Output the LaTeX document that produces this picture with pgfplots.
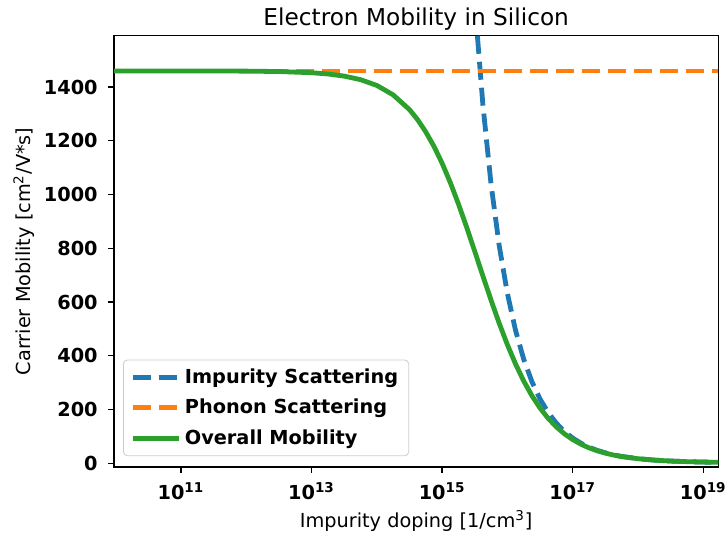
\documentclass[border=0pt]{standalone}
\usepackage{fontspec}
\setmainfont{DejaVu Sans}
\usepackage{pgfplots}
\usepackage{pgfplotstable}
\pgfplotsset{compat=1.18}

\definecolor{mplblue}{HTML}{1F77B4}
\definecolor{mplorange}{HTML}{FF7F0E}
\definecolor{mplgreen}{HTML}{2CA02C}

% Impurity-limited mobility (cm^2/Vs) versus doping (1/cm^3)
\pgfplotstableread{
N        mu
1.778e15 2847
2.371e15 2208.5
3.162e15 1714.9
4.217e15 1333.4
5.623e15 1037.9
7.499e15 809.1
1.000e16 631.9
1.334e16 494.2
1.778e16 387.1
2.371e16 303.9
3.162e16 238.9
4.217e16 188.3
5.623e16 148.8
7.499e16 117.9
1.000e17 93.6
1.334e17 74.6
1.778e17 59.6
2.371e17 47.8
3.162e17 38.5
4.217e17 31.1
5.623e17 25.2
1.000e18 16.9
1.778e18 11.5
3.162e18 8.0
5.623e18 5.7
1.000e19 4.2
1.700e19 3.2
}\impurity

% Lattice (phonon) limited mobility
\pgfplotstableread{
N        mu
9.46e9   1460
1.70e19  1460
}\phonon

% Combined mobility (Matthiessen's rule)
\pgfplotstableread{
N        mu
9.46e9   1460.0
3.162e10 1460.0
1.000e11 1459.9
3.162e11 1459.7
1.000e12 1459.2
3.162e12 1457.7
1.000e13 1453.3
1.778e13 1448.6
3.162e13 1440.7
5.623e13 1427.6
1.000e14 1406.0
1.778e14 1371.0
3.162e14 1316.0
4.217e14 1278.7
5.623e14 1233.0
7.499e14 1179.5
1.000e15 1116.6
1.334e15 1044.8
1.778e15 965.1
2.371e15 878.9
3.162e15 788.6
4.217e15 696.9
5.623e15 606.7
7.499e15 520.6
1.000e16 441.0
1.334e16 369.2
1.778e16 306.0
2.371e16 251.5
3.162e16 205.3
4.217e16 166.8
5.623e16 135.0
7.499e16 109.1
1.000e17 88.0
1.334e17 70.9
1.778e17 57.2
2.371e17 46.3
3.162e17 37.5
4.217e17 30.4
5.623e17 24.8
1.000e18 16.7
1.778e18 11.4
3.162e18 8.0
5.623e18 5.7
1.000e19 4.2
1.700e19 3.2
}\overall

\begin{document}
\begin{tikzpicture}
\begin{axis}[
  scale only axis,
  width=302pt, height=215.5pt,
  xmode=log,
  xmin=9.46e9, xmax=1.7e19,
  ymin=-13.8, ymax=1591,
  xtick={1e11,1e13,1e15,1e17,1e19},
  xticklabels={%
    \textbf{10\textsuperscript{11}},
    \textbf{10\textsuperscript{13}},
    \textbf{10\textsuperscript{15}},
    \textbf{10\textsuperscript{17}},
    \textbf{10\textsuperscript{19}}},
  ytick={0,200,...,1400},
  minor tick num=0,
  minor xtick={},
  xtick pos=bottom,
  ytick pos=left,
  tick align=outside,
  major tick length=3pt,
  tick style={black, line width=0.6pt},
  axis line style={black, line width=0.6pt},
  /pgf/number format/assume math mode=true,
  /pgf/number format/1000 sep={},
  ticklabel style={font=\fontsize{9.65}{11}\selectfont\bfseries},
  yticklabel style={anchor=east, inner sep=0pt, xshift=-5pt},
  xticklabel style={anchor=north, inner sep=0pt, yshift=-4.5pt},
  title={Electron Mobility in Silicon},
  every axis title shift=0pt,
  title style={at={(axis description cs:0.5,1.0387)}, anchor=center,
               font=\fontsize{11.6}{13}\selectfont},
  xlabel={Impurity doping [1/cm\textsuperscript{3}]},
  ylabel={Carrier Mobility [cm\textsuperscript{2}/V*s]},
  label style={font=\fontsize{9.65}{11}\selectfont},
  xlabel style={at={(axis description cs:0.5,-0.126)}, anchor=center},
  ylabel style={at={(axis description cs:-0.149,0.5)}, anchor=center, rotate=0},
  legend cell align=left,
  legend image code/.code={%
    \draw[#1] (0pt,0pt) -- (20pt,0pt);
    \path (0pt,0pt) -- (23pt,0pt);},
  legend style={
    at={(axis description cs:0.0149,0.0248)}, anchor=south west,
    draw=black!20, rounded corners=2pt, fill=white, fill opacity=0.8,
    text opacity=1, font=\fontsize{9.65}{11}\selectfont\bfseries,
    inner xsep=3.5pt, inner ysep=2.5pt, row sep=2.8pt,
    nodes={inner sep=1.8pt}},
]
\addplot[mplblue, line width=2.4pt, dash pattern=on 9pt off 4pt] table[x=N, y=mu] {\impurity};
\addlegendentry{Impurity Scattering}
\addplot[mplorange, line width=2.4pt, dash pattern=on 9pt off 4pt] table[x=N, y=mu] {\phonon};
\addlegendentry{Phonon Scattering}
\addplot[mplgreen, line width=2.4pt] table[x=N, y=mu] {\overall};
\addlegendentry{Overall Mobility}
\end{axis}
\pgfresetboundingbox
\path[use as bounding box]
  ([shift={(-57pt,-35.15pt)}]current axis.south west)
  rectangle ([shift={(3.85pt,17.85pt)}]current axis.north east);
\end{tikzpicture}
\end{document}
